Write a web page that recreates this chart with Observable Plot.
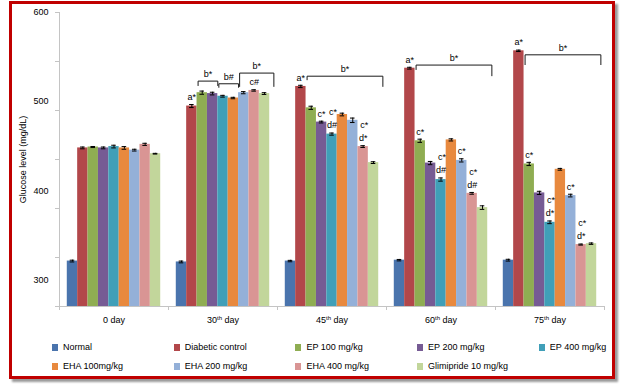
<!DOCTYPE html>
<html><head><meta charset="utf-8">
<script src="https://cdn.jsdelivr.net/npm/d3@7"></script>
<script src="https://cdn.jsdelivr.net/npm/@observablehq/plot@0.6"></script>
<style>
body{margin:0;background:#fff;}
#wrap{position:relative;width:624px;height:384px;overflow:hidden;font-family:"Liberation Sans",Arial,sans-serif;background:#fff;}
#chart{position:absolute;left:0;top:0;}
#border{position:absolute;left:9px;top:1px;width:600px;height:372px;border:3px solid #c00000;box-shadow:3px 3px 2px #9a9a9a;pointer-events:none;}
.leg{position:absolute;font-size:9px;color:#000;white-space:nowrap;line-height:10px;}
.sw{position:absolute;width:6px;height:7px;}
</style></head><body><div id="wrap"><div id="chart"></div><div id="legend"></div><div id="border"></div></div>
<script>
const days = ["0 day", "30th day", "45th day", "60th day", "75th day"];
const series = ["Normal", "Diabetic control", "EP 100 mg/kg", "EP 200 mg/kg", "EP 400 mg/kg",
  "EHA 100mg/kg", "EHA 200 mg/kg", "EHA 400 mg/kg", "Glimipride 10 mg/kg"];
const colors = ["#4a74ad", "#b2474a", "#8fad52", "#765b94", "#409fb8", "#e8893e", "#94b0d8", "#d99594", "#c2d69b"];

// mean glucose values (mg/dL) per group, one entry per day
const normal   = [321, 320, 321, 322, 322];
const diabetic = [448, 495, 517, 537.5, 557];
const ep100    = [449, 510, 493, 456, 430];
const ep200    = [448, 509, 477, 431, 397.5];
const ep400    = [449.5, 506, 463.5, 412.5, 364.5];
const eha100   = [448, 504, 485.5, 457, 424];
const eha200   = [445.5, 510, 479, 434, 394.5];
const eha400   = [452, 512.5, 449.5, 397, 339.5];
const glim     = [441.5, 509, 431.5, 381, 340.5];
// error bars
const normalErr   = [1, 1, 0.8, 0.8, 1];
const diabeticErr = [1, 1.7, 1.3, 1, 0.8];
const ep100Err    = [0.6, 1.8, 1.8, 1.8, 1.8];
const ep200Err    = [1, 1.5, 1, 1.8, 1.8];
const ep400Err    = [1.5, 1, 1.2, 1.8, 1.5];
const eha100Err   = [1.5, 0.8, 1.5, 1.2, 1];
const eha200Err   = [1, 1.2, 2.5, 1.8, 1.5];
const eha400Err   = [1.2, 0.8, 1, 1, 0.6];
const glimErr     = [0.4, 1, 1, 2, 0.8];

const yTickLabels = [300, 400, 500, 600];
const yMinorTicks = [270, 325, 380, 435, 490, 545, 600];

// significance letters: [day, group, label, stack level]
const letters = [
  ["30th day", "Diabetic control", "a*", 0], ["30th day", "EHA 400 mg/kg", "c#", 0],
  ["45th day", "Diabetic control", "a*", 0], ["45th day", "EP 200 mg/kg", "c*", 0],
  ["45th day", "EP 400 mg/kg", "d#", 0], ["45th day", "EP 400 mg/kg", "c*", 1],
  ["45th day", "EHA 400 mg/kg", "d*", 0], ["45th day", "EHA 400 mg/kg", "c*", 1],
  ["60th day", "Diabetic control", "a*", 0], ["60th day", "EP 100 mg/kg", "c*", 0],
  ["60th day", "EP 400 mg/kg", "d#", 0], ["60th day", "EP 400 mg/kg", "c*", 1],
  ["60th day", "EHA 200 mg/kg", "c*", 0],
  ["60th day", "EHA 400 mg/kg", "d#", 0], ["60th day", "EHA 400 mg/kg", "c*", 1],
  ["75th day", "Diabetic control", "a*", 0], ["75th day", "EP 100 mg/kg", "c*", 0],
  ["75th day", "EP 400 mg/kg", "d*", 0], ["75th day", "EP 400 mg/kg", "c*", 1],
  ["75th day", "EHA 200 mg/kg", "c*", 0],
  ["75th day", "EHA 400 mg/kg", "d*", 0], ["75th day", "EHA 400 mg/kg", "c*", 1]
];
// brackets: [day, from group, to group, label, top value, left end value, right end value]
const brackets = [
  ["30th day", "EP 100 mg/kg", "EP 200 mg/kg", "b*", 523, 518, 518],
  ["30th day", "EP 400 mg/kg", "EHA 100mg/kg", "b#", 520, 516, 516],
  ["30th day", "EHA 200 mg/kg", "Glimipride 10 mg/kg", "b*", 532, 517, 517],
  ["45th day", "EP 100 mg/kg", "Glimipride 10 mg/kg", "b*", 528.5, 524.5, 517],
  ["60th day", "EP 100 mg/kg", "Glimipride 10 mg/kg", "b*", 541, 536, 529],
  ["75th day", "EP 100 mg/kg", "Glimipride 10 mg/kg", "b*", 552.5, 541.5, 541.5]
];

const valueSets = [normal, diabetic, ep100, ep200, ep400, eha100, eha200, eha400, glim];
const errSets = [normalErr, diabeticErr, ep100Err, ep200Err, ep400Err, eha100Err, eha200Err, eha400Err, glimErr];

const rows = [];
days.forEach((day, di) => series.forEach((s, si) => {
  rows.push({day, series: s, si, value: valueSets[si][di], err: errSets[si][di]});
}));
const rowOf = (day, s) => rows.find(r => r.day === day && r.series === s);

const annos = letters.map(([day, s, label, level]) => {
  const r = rowOf(day, s);
  return {day, si: r.si, top: r.value + r.err, label, level};
});
const last = series.length - 1;
const brk = brackets.map(([day, from, to, label, y, yL, yR], k) => {
  const i1 = series.indexOf(from), i2 = series.indexOf(to);
  const x1 = i1 + 0.1, x2 = i2 + 1 + (i2 === last ? 0.4 : 0);
  return {k, day, label, y, yL, yR, x1, x2};
});
const brkPts = brk.flatMap(b => [
  {k: b.k, day: b.day, x: b.x1, y: b.yL}, {k: b.k, day: b.day, x: b.x1, y: b.y},
  {k: b.k, day: b.day, x: b.x2, y: b.y}, {k: b.k, day: b.day, x: b.x2, y: b.yR}
]);

const yMin = 270, yMax = 600;
const mT = 12, mB = 24, H = 330;
const pxPerUnit = (H - mB - mT) / (yMax - yMin);
const below = yMin - 4 / pxPerUnit;
const axisGray = "#c4c4c4";

const chart = Plot.plot({
  width: 624, height: H,
  marginLeft: 57, marginRight: 18, marginTop: mT, marginBottom: mB,
  style: {fontFamily: '"Liberation Sans", Arial, sans-serif', fontSize: "9px", color: "#000", background: "transparent", overflow: "visible"},
  fx: {domain: days, padding: 0},
  x: {domain: [-0.75, series.length + 0.75], axis: null},
  y: {domain: [yMin, yMax], axis: null},
  color: {domain: series, range: colors},
  marks: [
    Plot.axisY(yMinorTicks, {tickSize: 4, tickFormat: () => "", stroke: axisGray, label: null}),
    Plot.axisY(yTickLabels, {tickSize: 0, tickPadding: 11, label: "Glucose level (mg/dL)", labelAnchor: "center", labelOffset: 40, labelArrow: "none"}),
    Plot.axisFx({anchor: "bottom", tickSize: 0, tickPadding: 10.5, label: null}),
    Plot.ruleY([yMin], {stroke: axisGray}),
    Plot.ruleX(days, {fx: d => d, x: -0.75, y1: d => d === days[0] ? yMax : yMin, y2: below, stroke: axisGray}),
    Plot.ruleX([days[days.length - 1]], {fx: d => d, x: series.length + 0.75, y1: yMin, y2: below, stroke: axisGray}),
    Plot.rectY(rows, {fx: "day", x1: d => d.si, x2: d => d.si + 1, y1: yMin, y2: "value", fill: "series"}),
    Plot.ruleX(rows, {fx: "day", x: d => d.si + 0.5, y1: d => d.value - d.err, y2: d => d.value + d.err, stroke: "#000"}),
    Plot.ruleY(rows, {fx: "day", x1: d => d.si + 0.28, x2: d => d.si + 0.72, y: d => d.value + d.err, stroke: "#000"}),
    Plot.ruleY(rows, {fx: "day", x1: d => d.si + 0.28, x2: d => d.si + 0.72, y: d => d.value - d.err, stroke: "#000"}),
    Plot.text(annos.filter(a => a.level === 0), {fx: "day", x: d => d.si + 0.5, y: "top", text: "label", dy: -7.5, fill: "#000"}),
    Plot.text(annos.filter(a => a.level === 1), {fx: "day", x: d => d.si + 0.5, y: "top", text: "label", dy: -20.5, dx: 1, fill: "#000"}),
    Plot.line(brkPts, {fx: "day", x: "x", y: "y", z: "k", stroke: "#1a1a1a", strokeWidth: 1}),
    Plot.text(brk, {fx: "day", x: d => (d.x1 + d.x2) / 2, y: "y", text: "label", dy: -7, fill: "#000"})
  ]
});

// superscript ordinal suffixes in day labels
chart.querySelectorAll("text").forEach(t => {
  const m = t.textContent.match(/^(\d+)(th) (day)$/);
  if (!m || t.querySelector("tspan")) return;
  t.textContent = m[1];
  const ns = "http://www.w3.org/2000/svg";
  const sup = document.createElementNS(ns, "tspan");
  sup.setAttribute("dy", "-3.5"); sup.setAttribute("font-size", "6"); sup.textContent = m[2];
  const rest = document.createElementNS(ns, "tspan");
  rest.setAttribute("dy", "3.5"); rest.setAttribute("font-size", "9"); rest.textContent = " " + m[3];
  t.appendChild(sup); t.appendChild(rest);
});
document.getElementById("chart").appendChild(chart);

// legend
const legend = document.getElementById("legend");
series.forEach((s, i) => {
  const row = i < 5 ? 0 : 1, col = i % 5;
  const cy = row === 0 ? 347 : 366;
  const left = 52 + 121.7 * col;
  const sw = document.createElement("div");
  sw.className = "sw"; sw.style.left = left + "px"; sw.style.top = (cy - 3.5) + "px"; sw.style.background = colors[i];
  const tx = document.createElement("div");
  tx.className = "leg"; tx.style.left = (left + 11) + "px"; tx.style.top = (cy - 5) + "px"; tx.textContent = s;
  legend.appendChild(sw); legend.appendChild(tx);
});
</script></body></html>
